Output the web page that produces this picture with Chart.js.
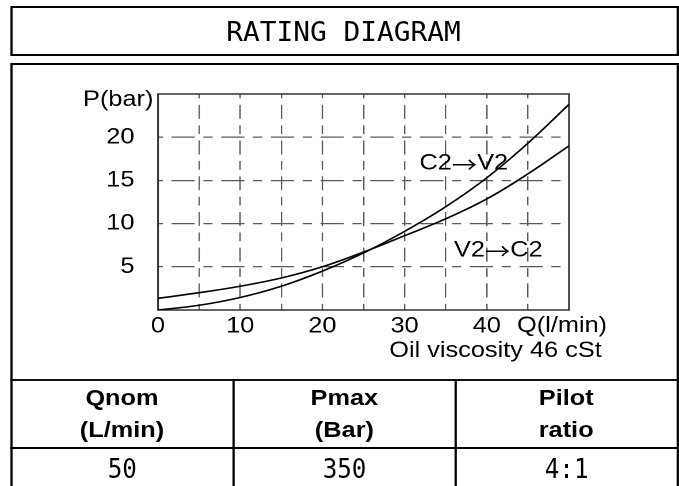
<!DOCTYPE html>
<html>
<head>
<meta charset="utf-8">
<title>Rating diagram</title>
<script src="https://cdn.jsdelivr.net/npm/chart.js@4.4.1/dist/chart.umd.min.js"></script>
<style>
  html, body { margin: 0; padding: 0; background: #fff; overflow: hidden; }
  body { width: 679px; height: 486px; position: relative; }
  /* the reference is drawn about 15% wider than tall, so lay out narrow and stretch */
  #page { position: absolute; left: 0; top: 0; width: 590px; height: 486px;
          transform: scaleX(1.1508); transform-origin: 0 0; }
  .box { position: absolute; box-sizing: border-box; border: 2px solid #000; }
  #titleBox { left: 8.5px; top: 6px; width: 581px; height: 50px;
              display: flex; align-items: center; justify-content: center; padding-top: 2px; }
  #title { display: inline-block; font-family: "DejaVu Sans Mono", monospace; font-size: 26px;
           transform: scaleX(0.93); color: #000; }
  #mainBox { left: 8.5px; top: 63px; width: 581px; height: 500px; }
  .hline { position: absolute; left: 8.5px; width: 581px; height: 2px; background: #111; }
  .vline { position: absolute; top: 379px; width: 2px; height: 120px; background: #000; }
  .cell { position: absolute; display: flex; flex-direction: column; align-items: center;
          justify-content: center; text-align: center; color: #000; }
  .head { top: 381px; height: 65.5px; font: bold 22px "Liberation Sans", Arial, sans-serif; line-height: 32px; }
  .value { top: 448.5px; height: 37.5px; padding-top: 2px; box-sizing: border-box; }
  .value span { display: inline-block; font-family: "DejaVu Sans Mono", monospace; font-size: 27px;
                transform: scaleX(0.78); }
  #chart { position: absolute; left: 0; top: 0; }
</style>
</head>
<body>
<div id="page">
  <div class="box" id="titleBox"><span id="title">RATING DIAGRAM</span></div>
  <div class="box" id="mainBox"></div>
  <div class="hline" style="top:379px"></div>
  <div class="hline" style="top:446.5px;background:#000"></div>
  <div class="vline" style="left:201.5px"></div>
  <div class="vline" style="left:395px"></div>
  <div id="table"></div>
  <canvas id="chart" width="590" height="486"></canvas>
</div>
<script>
// flow Q (l/min) and pressure drop P (bar)
const flowValues = [0, 5, 10, 15, 20, 25, 30, 35, 40, 45, 50];
const c2v2Values = [0, 0.55, 1.45, 2.75, 4.5, 6.6, 9.1, 11.95, 15.3, 19.3, 23.8];
const v2c2Values = [1.35, 2.0, 2.75, 3.7, 5.0, 6.7, 8.6, 10.55, 12.85, 15.75, 19.0];

const xTickLabels = [0, 10, 20, 30, 40];
const yTickLabels = [5, 10, 15, 20];
const qMax = 50;
const pMax = 25;

const xTitle = "Q(l/min)";
const yTitle = "P(bar)";
const noteText = "Oil viscosity 46 cSt";
const curveLabels = [
  { text: "C2→V2", q: 37.2, p: 16.95 },
  { text: "V2→C2", q: 41.4, p: 6.9 }
];

const headerTop = ["Qnom", "Pmax", "Pilot"];
const headerBottom = ["(L/min)", "(Bar)", "ratio"];
const tableValues = ["50", "350", "4:1"];

const tableEl = document.getElementById("table");
const colLeft = [10.5, 203.5, 397];
const colWidth = [191, 191.5, 190];

function renderTable() {
  headerTop.forEach((top, i) => {
    const head = document.createElement("div");
    head.className = "cell head";
    head.style.left = colLeft[i] + "px";
    head.style.width = colWidth[i] + "px";
    head.innerHTML = `<div>${top}</div><div>${headerBottom[i]}</div>`;
    tableEl.appendChild(head);

    const val = document.createElement("div");
    val.className = "cell value";
    val.style.left = colLeft[i] + "px";
    val.style.width = colWidth[i] + "px";
    val.innerHTML = `<span>${tableValues[i]}</span>`;
    tableEl.appendChild(val);
  });
}

const labelFont = '22px "Liberation Sans", Arial, sans-serif';
const arrowFont = '22px "Noto Sans CJK JP", "DejaVu Sans", sans-serif';

// curve label with a long arrow: the arrow comes from another font
function drawArrowLabel(ctx, text, cx, cy) {
  const [a, b] = text.split("→");
  ctx.font = labelFont;
  const wa = ctx.measureText(a).width;
  const wb = ctx.measureText(b).width;
  ctx.font = arrowFont;
  const wArrow = ctx.measureText("→").width;
  let x = cx - (wa + wArrow + wb) / 2;
  ctx.textAlign = "left";
  ctx.font = labelFont;
  ctx.fillText(a, x, cy);
  x += wa;
  ctx.font = arrowFont;
  ctx.fillText("→", x, cy + 1);
  x += wArrow;
  ctx.font = labelFont;
  ctx.fillText(b, x, cy);
}

const diagramText = {
  id: "diagramText",
  beforeDatasetsDraw(chart) {
    const { ctx, chartArea: a } = chart;
    ctx.save();
    ctx.strokeStyle = "#333";
    ctx.lineWidth = 1.5;
    ctx.strokeRect(a.left, a.top, a.right - a.left, a.bottom - a.top);
    ctx.restore();
  },
  afterDraw(chart) {
    const { ctx, chartArea: a, scales } = chart;
    ctx.save();
    ctx.fillStyle = "#000";
    ctx.font = labelFont;
    ctx.textBaseline = "middle";
    ctx.textAlign = "right";
    ctx.fillText(yTitle, a.left - 4, a.top + 6);
    ctx.textAlign = "center";
    ctx.fillText(xTitle, scales.x.getPixelForValue(qMax) - 6, a.bottom + 16);
    ctx.textAlign = "right";
    ctx.textBaseline = "alphabetic";
    ctx.fillText(noteText, a.right + 28.5, a.bottom + 47);
    ctx.textBaseline = "middle";
    curveLabels.forEach((l) => {
      drawArrowLabel(ctx, l.text, scales.x.getPixelForValue(l.q), scales.y.getPixelForValue(l.p));
    });
    ctx.restore();
  }
};

function edgeColor(max) {
  return (c) => (c.tick && (c.tick.value === 0 || c.tick.value === max) ? "rgba(0,0,0,0)" : "#5a5a5a");
}

function makeSeries(values) {
  return values.map((p, i) => ({ x: flowValues[i], y: p }));
}

function renderChart() {
  const ctx = document.getElementById("chart");
  new Chart(ctx, {
    type: "line",
    data: {
      datasets: [
        {
          label: "C2→V2",
          data: makeSeries(c2v2Values),
          borderColor: "#000",
          borderWidth: 1.6,
          pointRadius: 0,
          tension: 0.4
        },
        {
          label: "V2→C2",
          data: makeSeries(v2c2Values),
          borderColor: "#000",
          borderWidth: 1.6,
          pointRadius: 0,
          tension: 0.4
        }
      ]
    },
    options: {
      responsive: false,
      animation: false,
      devicePixelRatio: 2,
      layout: { padding: { left: 77.3, top: 94, right: 95.6, bottom: 136 } },
      plugins: { legend: { display: false }, tooltip: { enabled: false } },
      scales: {
        x: {
          type: "linear",
          min: 0,
          max: qMax,
          afterFit: (s) => { s.height = 40; },
          border: { display: false, dash: [8.7, 6.5, 14, 6.5], dashOffset: 4.35 },
          grid: { color: edgeColor(qMax), lineWidth: 1.2, drawTicks: false },
          ticks: {
            stepSize: 5,
            autoSkip: false,
            maxRotation: 0,
            padding: 3,
            color: "#000",
            font: { family: "Liberation Sans", size: 22 },
            callback: (v) => (xTickLabels.includes(v) ? String(v) : "")
          }
        },
        y: {
          min: 0,
          max: pMax,
          afterFit: (s) => { s.width = 60; },
          border: { display: false, dash: [8, 7.5, 20.2, 7.5], dashOffset: 4 },
          grid: { color: edgeColor(pMax), lineWidth: 1.2, drawTicks: false },
          ticks: {
            stepSize: 5,
            padding: 20.5,
            color: "#000",
            font: { family: "Liberation Sans", size: 22 },
            callback: (v) => (yTickLabels.includes(v) ? String(v) : "")
          }
        }
      }
    },
    plugins: [diagramText]
  });
}

renderTable();
renderChart();
</script>
</body>
</html>
